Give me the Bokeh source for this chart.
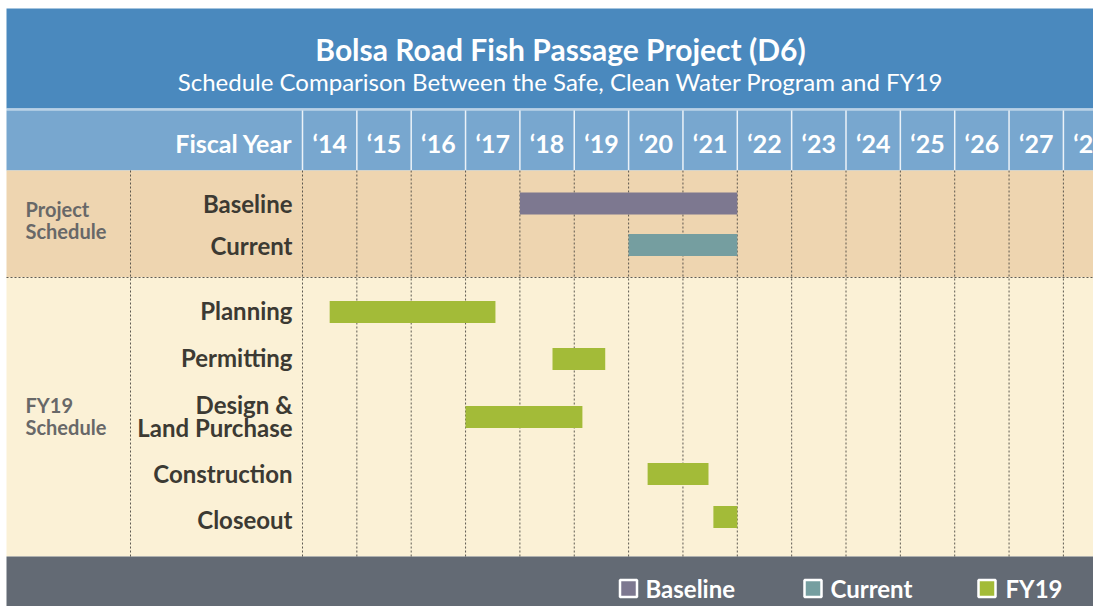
from bokeh.plotting import figure
from bokeh.models import Range1d, ColumnDataSource
from bokeh.core.properties import value
from bokeh.embed import file_html
from bokeh.resources import INLINE

# ---------------- data ----------------
years = list(range(2014, 2029))
year_labels = ["\u2018%02d" % (y % 100) for y in years]

project_rows = ["Baseline", "Current"]
project_start = [2018.0, 2020.0]
project_end = [2022.0, 2022.0]
project_colors = ["#7d7890", "#759ea0"]

fy19_tasks = ["Planning", "Permitting", "Design &\nLand Purchase", "Construction", "Closeout"]
fy19_start = [2014.5, 2018.6, 2017.0, 2020.35, 2021.56]
fy19_end = [2017.55, 2019.57, 2019.15, 2021.47, 2022.0]
fy19_color = "#a3bb38"

legend_labels = ["Baseline", "Current", "FY19"]

title = "Bolsa Road Fish Passage Project (D6)"
subtitle = "Schedule Comparison Between the Safe, Clean Water Program and FY19"
group_labels = [["Project", "Schedule"], ["FY19", "Schedule"]]

# ---------------- layout helpers ----------------
CW = 54.35          # pixels per fiscal year
X0PX = 302          # x of start of FY14 (picture px)


def fx(px):
    return 2014 + (px - X0PX) / CW


def fy(py):
    return py


W, H = 1093, 606
FONT = "Lato, 'Open Sans', sans-serif"
LX, TY = 6, 8       # left / top edge of chart block

p = figure(width=W, height=H, output_backend="svg", toolbar_location=None,
           x_range=Range1d(fx(0), fx(W)), y_range=Range1d(H, 0),
           min_border=0, outline_line_color=None)
p.axis.visible = False
p.grid.visible = False
p.background_fill_color = "white"
p.border_fill_color = "white"

XL, XR = fx(LX), fx(W + 20)

# ---------------- bands ----------------
bands = [
    (TY, 108, "#4a89be"),
    (108, 110, "#b9d1e7"),
    (110, 170, "#78a7cf"),
    (170, 277, "#eed5b0"),
    (277, 556, "#fbf1d6"),
    (556, 620, "#636a74"),
]
p.quad(left=[XL] * len(bands), right=[XR] * len(bands),
       top=[fy(b[0]) for b in bands], bottom=[fy(b[1]) for b in bands],
       fill_color=[b[2] for b in bands], line_color=None)

# header column separators (solid white)
p.segment(x0=years, x1=years, y0=[fy(110)] * len(years), y1=[fy(170)] * len(years),
          line_color="white", line_alpha=0.85, line_width=1.5)

# body dotted lines
body_x = [fx(130)] + years
p.segment(x0=body_x, x1=body_x, y0=[fy(170)] * len(body_x), y1=[fy(556)] * len(body_x),
          line_color="#4d4a44", line_width=1, line_dash="2 2", line_alpha=0.9)
p.segment(x0=[XL], x1=[XR], y0=[fy(277)], y1=[fy(277)],
          line_color="#4d4a44", line_width=1, line_dash="2 2", line_alpha=0.9)

# ---------------- titles ----------------
p.text(x=[fx(560)], y=[fy(48)], text=[title], text_font=value(FONT),
       text_font_style="bold", text_font_size="30px", text_color="white",
       text_align="center", text_baseline="middle")
p.text(x=[fx(560)], y=[fy(81)], text=[subtitle], text_font=value(FONT),
       text_font_size="24px", text_color="white",
       text_align="center", text_baseline="middle")

# header labels
p.text(x=[fx(292)], y=[fy(142)], text=["Fiscal Year"], text_font=value(FONT),
       text_font_style="bold", text_font_size="25px", text_color="white",
       text_align="right", text_baseline="middle")
p.text(x=[y + 0.5 for y in years], y=[fy(142)] * len(years), text=year_labels,
       text_font=value(FONT), text_font_style="bold", text_font_size="25px",
       text_color="white", text_align="center", text_baseline="middle")

# group labels
g_txt, g_y = [], []
for lines, yc in zip(group_labels, [219, 415]):
    for i, t in enumerate(lines):
        g_txt.append(t)
        g_y.append(fy(yc - 11 + 22 * i))
p.text(x=[fx(25)] * len(g_txt), y=g_y, text=g_txt, text_font=value(FONT),
       text_font_style="bold", text_font_size="20px", text_color="#686868",
       text_align="left", text_baseline="middle")

# ---------------- bars ----------------
proj_y = [fy(203), fy(244.5)]
task_y = [fy(311.5), fy(358.5), fy(416.5), fy(473.5), fy(516.5)]
BH = 22

src_p = ColumnDataSource(dict(label=project_rows, left=project_start, right=project_end,
                              y=proj_y, color=project_colors))
p.hbar(y="y", left="left", right="right", height=BH, fill_color="color",
       line_color=None, source=src_p)

src_t = ColumnDataSource(dict(label=fy19_tasks, left=fy19_start, right=fy19_end, y=task_y))
p.hbar(y="y", left="left", right="right", height=BH, fill_color=fy19_color,
       line_color=None, source=src_t)

# row labels
r_txt, r_y = [], []
for lab, yc in zip(project_rows + fy19_tasks, [203, 245] + [310, 357, 415.5, 473, 519]):
    lines = lab.split("\n")
    n = len(lines)
    for i, t in enumerate(lines):
        r_txt.append(t)
        r_y.append(fy(yc + (i - (n - 1) / 2) * 23))
p.text(x=[fx(292)] * len(r_txt), y=r_y, text=r_txt, text_font=value(FONT),
       text_font_style="bold", text_font_size="24px", text_color="#3c3a33",
       text_align="right", text_baseline="middle")

# ---------------- legend ----------------
leg_colors = [project_colors[0], project_colors[1], fy19_color]
leg_sq_x = [fx(628), fx(812.5), fx(986.5)]
leg_txt_x = [fx(645), fx(830), fx(1005)]
p.rect(x=leg_sq_x, y=[fy(588)] * 3, width=17, height=17, width_units="screen",
       height_units="screen", fill_color=leg_colors, line_color="white", line_width=2.5)
p.text(x=leg_txt_x, y=[fy(588)] * 3, text=legend_labels, text_font=value(FONT),
       text_font_style="bold", text_font_size="24px", text_color="white",
       text_align="left", text_baseline="middle")

open("out.html", "w").write(file_html(p, INLINE))
